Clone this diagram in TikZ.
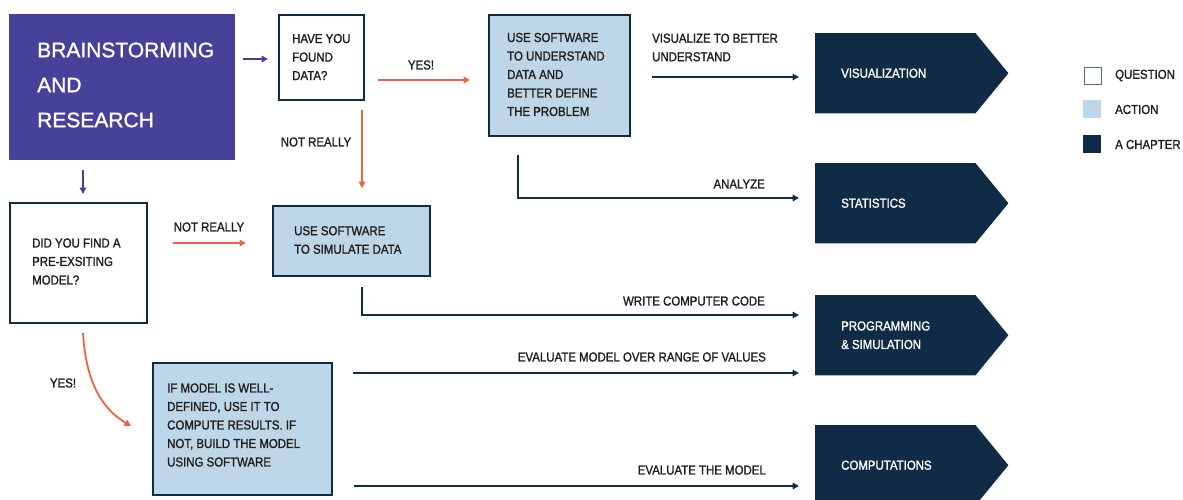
\documentclass[tikz,border=0pt]{standalone}
\usepackage{fontspec}
\setmainfont[FakeStretch=0.88,FakeBold=1.3]{Liberation Sans}
\newfontfamily\bigfont[FakeBold=1.2]{Liberation Sans}
\usetikzlibrary{arrows.meta}
\definecolor{purp}{HTML}{48419A}
\definecolor{navy}{HTML}{0F2B46}
\definecolor{lblue}{HTML}{BDD6E8}
\definecolor{orng}{HTML}{EE6149}
\definecolor{txtc}{HTML}{1E1E1E}
\tikzset{
  qbox/.style={draw=navy, line width=2pt, fill=white, inner sep=0pt, anchor=north west},
  abox/.style={draw=navy, line width=2pt, fill=lblue, inner sep=0pt, anchor=north west},
  chap/.style={inner sep=0pt, anchor=north west, minimum width=160pt, minimum height=80pt},
  txt/.style={font=\fontsize{13}{18.5}\selectfont, text=txtc, align=left, inner sep=0pt},
  ctxt/.style={font=\fontsize{13}{18.5}\selectfont, text=white, align=left, inner sep=0pt, anchor=west},
  darr/.style={draw=navy, line width=1.8pt, -{Triangle[length=6.5pt,width=6.5pt]}},
  oarr/.style={draw=orng, line width=1.8pt, -{Triangle[length=6.5pt,width=6.5pt]}},
  parr/.style={draw=purp, line width=1.8pt, -{Triangle[length=6.5pt,width=6.5pt]}},
}
\begin{document}
\begin{tikzpicture}[x=1pt,y=-1pt]
\useasboundingbox (0,0) rectangle (1183,499);

% Brainstorming
\node[fill=purp, inner sep=0pt, anchor=north west, minimum width=226pt, minimum height=146pt] (bs) at (9,14) {};
\node[font=\bigfont\fontsize{21}{35}\selectfont, text=white, align=left, inner sep=0pt, anchor=west] (bst) at (37,85) {BRAINSTORMING\\AND\\RESEARCH};

% Question 1
\node[qbox, minimum width=85pt, minimum height=85pt] (q1) at (278,14) {};
\node[txt, anchor=west] (q1t) at (292,57) {HAVE YOU\\FOUND\\DATA?};

% Action 1
\node[abox, minimum width=141pt, minimum height=121pt] (a1) at (488,14) {};
\node[txt, anchor=west] (a1t) at (507,74.5) {USE SOFTWARE\\TO UNDERSTAND\\DATA AND\\BETTER DEFINE\\THE PROBLEM};

% Question 2
\node[qbox, minimum width=137pt, minimum height=120pt] (q2) at (9,202) {};
\node[txt, anchor=west] (q2t) at (32,261.5) {DID YOU FIND A\\PRE-EXSITING\\MODEL?};

% Action 2
\node[abox, minimum width=157pt, minimum height=70pt] (a2) at (272,205) {};
\node[txt, anchor=west] (a2t) at (294,240) {USE SOFTWARE\\TO SIMULATE DATA};

% Action 3
\node[abox, minimum width=179pt, minimum height=132pt] (a3) at (152,362) {};
\node[txt, anchor=west] (a3t) at (167,425) {IF MODEL IS WELL-\\DEFINED, USE IT TO\\COMPUTE RESULTS. IF\\NOT, BUILD THE MODEL\\USING SOFTWARE};

% Chapters
\node[chap] (vis) at (815,33) {};
\node[chap] (sta) at (815,163) {};
\node[chap] (pro) at (815,295) {};
\node[chap] (com) at (815,425) {};
\foreach \c in {vis,sta,pro,com}{
  \fill[navy] (\c.north west) -- (\c.north east) -- ([xshift=33pt]\c.east) -- (\c.south east) -- (\c.south west) -- cycle;
}
\node[ctxt] (vist) at ([xshift=26pt]vis.west) {VISUALIZATION};
\node[ctxt] (stat) at ([xshift=26pt]sta.west) {STATISTICS};
\node[ctxt] (prot) at ([xshift=26pt]pro.west) {PROGRAMMING\\\& SIMULATION};
\node[ctxt] (comt) at ([xshift=26pt]com.west) {COMPUTATIONS};

% Legend
\node[draw=navy!70!white, line width=1.3pt, fill=white, minimum width=17pt, minimum height=17pt, inner sep=0pt, anchor=north west] (lq) at (1084,67) {};
\node[fill=lblue, minimum width=18pt, minimum height=18pt, inner sep=0pt, anchor=north west] (la) at (1083,100) {};
\node[fill=navy, minimum width=18pt, minimum height=18pt, inner sep=0pt, anchor=north west] (lc) at (1083,135) {};
\node[txt, anchor=west] (lqt) at (1115,75.5) {QUESTION};
\node[txt, anchor=west] (lat) at (1115,109.5) {ACTION};
\node[txt, anchor=west] (lct) at (1115,144.5) {A CHAPTER};

% Connector endpoints
\coordinate (p1s) at (243,59);
\coordinate (p1e) at (268,59);
\coordinate (p2s) at (83,170);
\coordinate (p2e) at (83,194);
\coordinate (y1s) at (378,80);
\coordinate (y1e) at (470,80);
\coordinate (n1s) at (362,110);
\coordinate (n1e) at (362,188);
\coordinate (n2s) at (173,243);
\coordinate (n2e) at (246,243);
\coordinate (v1s) at (652,77);
\coordinate (v1e) at (799,77);
\coordinate (s1s) at (518,155);
\coordinate (s1c) at (518,198);
\coordinate (s1e) at (799,198);
\coordinate (w1s) at (362,287);
\coordinate (w1c) at (362,315);
\coordinate (w1e) at (799,315);
\coordinate (e1s) at (353,373);
\coordinate (e1e) at (799,373);
\coordinate (e2s) at (354,486);
\coordinate (e2e) at (799,486);
\coordinate (ys) at (83,333);
\coordinate (ye) at (131,426);

% Connectors
\draw[parr] (p1s) -- (p1e);
\draw[parr] (p2s) -- (p2e);
\draw[oarr] (y1s) -- (y1e);
\draw[oarr] (n1s) -- (n1e);
\draw[oarr] (n2s) -- (n2e);
\draw[darr] (v1s) -- (v1e);
\draw[darr] (s1s) -- (s1c) -- (s1e);
\draw[darr] (w1s) -- (w1c) -- (w1e);
\draw[darr] (e1s) -- (e1e);
\draw[darr] (e2s) -- (e2e);
\draw[oarr] (ys) .. controls (86,385) and (104,410) .. (ye);

% Labels
\node[txt] (l1) at (421,65) {YES!};
\node[txt] (l2) at (316,142) {NOT REALLY};
\node[txt, anchor=west] (l3) at (652,47.5) {VISUALIZE TO BETTER\\UNDERSTAND};
\node[txt, anchor=east] (l4) at (765,184) {ANALYZE};
\node[txt] (l5) at (209,227) {NOT REALLY};
\node[txt, anchor=east] (l6) at (765,301) {WRITE COMPUTER CODE};
\node[txt, anchor=east] (l7) at (766,357) {EVALUATE MODEL OVER RANGE OF VALUES};
\node[txt, anchor=east] (l8) at (766,470) {EVALUATE THE MODEL};
\node[txt] (l9) at (63,383) {YES!};
\end{tikzpicture}
\end{document}
